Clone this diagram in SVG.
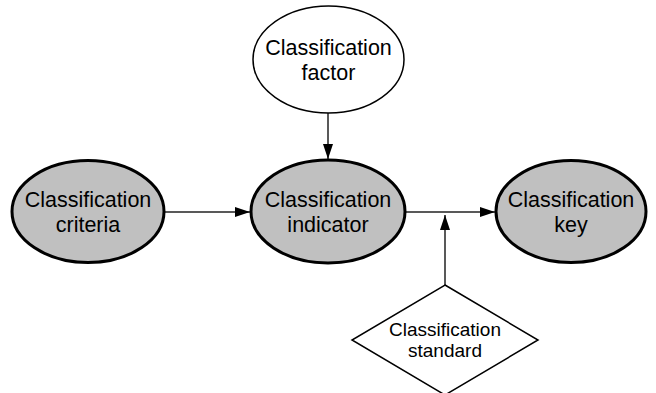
<svg xmlns="http://www.w3.org/2000/svg" width="656" height="393" viewBox="0 0 656 393">
<defs>
<marker id="arr" markerWidth="15" markerHeight="10" refX="15" refY="5" orient="auto" markerUnits="userSpaceOnUse">
<path d="M0,0 L15,5 L0,10 Z" fill="#000"/>
</marker>
<style>
.main{fill:#c0c0c0;stroke:#000;stroke-width:3}
.aux{fill:#fff;stroke:#000;stroke-width:1.5}
.t{font-family:"Liberation Sans",Arial,sans-serif;font-size:21.5px;fill:#000;text-anchor:middle}
.s{font-family:"Liberation Sans",Arial,sans-serif;font-size:19px;fill:#000;text-anchor:middle}
.c{stroke:#222;stroke-width:1.5;fill:none}
</style>
</defs>
<rect width="656" height="393" fill="#fff"/>
<g id="connectors">
<line class="c" x1="164" y1="212" x2="250" y2="212" marker-end="url(#arr)"/>
<line class="c" x1="328" y1="113" x2="328" y2="159" marker-end="url(#arr)"/>
<line class="c" x1="405" y1="212" x2="495" y2="212" marker-end="url(#arr)"/>
<line class="c" x1="445" y1="285" x2="445" y2="215" marker-end="url(#arr)"/>
</g>
<g id="criteria">
<ellipse class="main" cx="88" cy="211.5" rx="76" ry="51"/>
<text class="t" x="88" y="207">Classification</text>
<text class="t" x="88" y="232">criteria</text>
</g>
<g id="factor">
<ellipse class="aux" cx="328.5" cy="59.5" rx="75.5" ry="53.5"/>
<text class="t" x="328.5" y="55">Classification</text>
<text class="t" x="328.5" y="80">factor</text>
</g>
<g id="indicator">
<ellipse class="main" cx="328" cy="211.5" rx="77" ry="51.5"/>
<text class="t" x="328" y="207">Classification</text>
<text class="t" x="328" y="232">indicator</text>
</g>
<g id="key">
<ellipse class="main" cx="571" cy="211.5" rx="75" ry="51"/>
<text class="t" x="571" y="207">Classification</text>
<text class="t" x="571" y="232">key</text>
</g>
<g id="standard">
<polygon class="aux" points="445,285 538,340 445,395 352,340"/>
<text class="s" x="445" y="336">Classification</text>
<text class="s" x="445" y="357">standard</text>
</g>
</svg>
